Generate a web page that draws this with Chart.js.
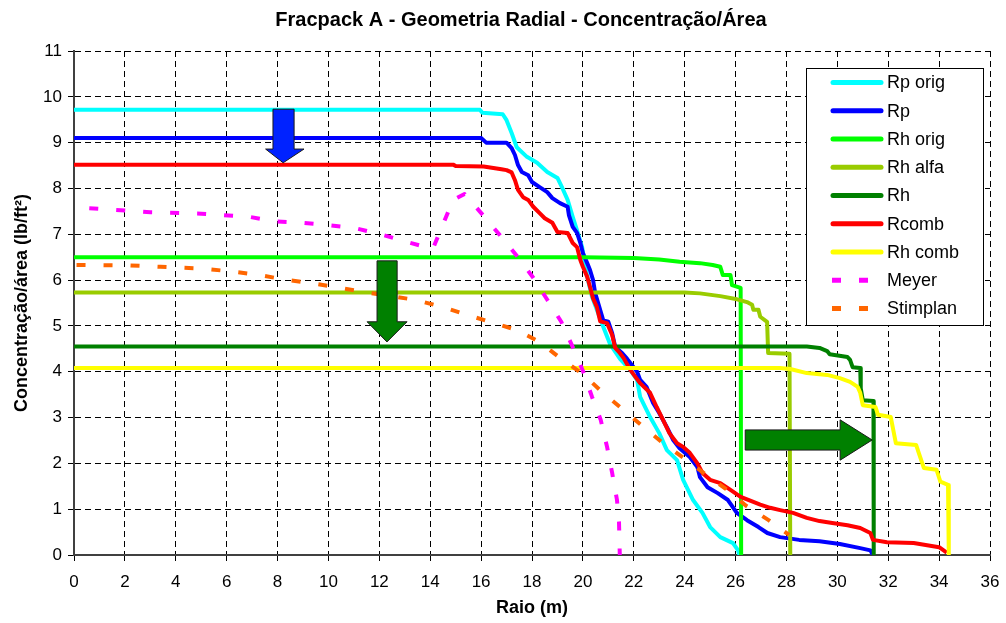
<!DOCTYPE html>
<html>
<head>
<meta charset="utf-8">
<title>Fracpack A - Geometria Radial</title>
<script src="https://cdn.jsdelivr.net/npm/chart.js@4.4.1/dist/chart.umd.min.js"></script>
<style>
  html, body { margin: 0; padding: 0; background: #fff; }
</style>
</head>
<body>
<canvas id="chart" width="1006" height="623"></canvas>
<script>
// Concentração por área x raio, pares [raio (m), lb/ft²]
const rpOrig = [[0,9.72],[15.95,9.72],[16.05,9.65],[16.85,9.62],[17.0,9.49],[17.2,9.21],[17.4,8.9],[17.8,8.69],[18.2,8.56],[18.6,8.36],[19.0,8.23],[19.2,8.0],[19.4,7.75],[19.6,7.38],[19.8,7.03],[19.97,6.72],[20.1,6.29],[20.2,6.0],[20.35,5.65],[20.55,5.35],[20.8,4.98],[21.07,4.6],[21.46,4.28],[21.86,4.04],[22.13,3.82],[22.25,3.45],[22.64,3.01],[23.0,2.66],[23.3,2.29],[23.7,2.07],[23.94,1.64],[24.33,1.2],[24.7,0.92],[25.0,0.61],[25.4,0.39],[25.9,0.26],[26.1,0.1],[26.15,0]];
const rp = [[0,9.1],[16.0,9.1],[16.2,9.0],[17.0,9.0],[17.2,8.88],[17.33,8.73],[17.45,8.51],[17.6,8.36],[17.85,8.29],[18.0,8.14],[18.3,8.03],[18.6,7.92],[18.8,7.79],[19.1,7.68],[19.4,7.6],[19.45,7.42],[19.6,7.16],[19.77,7.03],[19.9,6.81],[20.0,6.59],[20.17,6.37],[20.28,6.22],[20.4,6.0],[20.48,5.72],[20.6,5.5],[20.8,5.12],[21.0,5.09],[21.15,4.84],[21.27,4.54],[21.54,4.41],[21.74,4.28],[22.13,4.0],[22.25,3.82],[22.5,3.67],[22.76,3.32],[23.0,3.1],[23.3,2.79],[23.55,2.51],[23.8,2.33],[24.2,2.14],[24.5,1.92],[24.6,1.7],[24.9,1.48],[25.3,1.35],[25.7,1.2],[26.05,0.92],[26.45,0.76],[26.9,0.61],[27.25,0.48],[27.75,0.39],[28.5,0.33],[29.3,0.3],[30.1,0.24],[30.9,0.15],[31.3,0.1],[31.4,0]];
const rhOrig = [[0,6.5],[20,6.5],[22,6.48],[23,6.45],[23.8,6.4],[24.6,6.37],[25.1,6.33],[25.4,6.29],[25.5,6.11],[25.8,6.11],[25.86,5.89],[26.2,5.83],[26.22,0]];
const rhAlfa = [[0,5.73],[24.0,5.73],[24.6,5.71],[25.4,5.65],[26.06,5.58],[26.45,5.52],[26.65,5.46],[26.7,5.35],[26.9,5.35],[26.97,5.2],[27.24,5.09],[27.28,4.41],[28.12,4.39],[28.15,0]];
const rh = [[0,4.55],[28.8,4.55],[29.3,4.52],[29.6,4.45],[29.7,4.38],[30.4,4.32],[30.5,4.26],[30.6,4.1],[30.9,4.08],[30.92,3.64],[31.0,3.38],[31.42,3.36],[31.43,0]];
const rComb = [[0,8.52],[14.9,8.52],[15.0,8.49],[16.1,8.48],[16.8,8.42],[17.0,8.4],[17.2,8.35],[17.33,8.18],[17.45,7.97],[17.65,7.81],[17.85,7.75],[18.05,7.6],[18.3,7.46],[18.5,7.35],[18.8,7.25],[19.0,7.05],[19.4,7.03],[19.6,6.81],[19.77,6.72],[19.9,6.44],[20.0,6.29],[20.17,6.07],[20.28,5.85],[20.4,5.6],[20.55,5.41],[20.68,5.1],[20.95,5.06],[21.15,4.8],[21.27,4.52],[21.45,4.41],[21.6,4.3],[21.86,4.04],[22.25,3.75],[22.64,3.54],[22.9,3.23],[23.15,2.95],[23.4,2.66],[23.7,2.44],[23.94,2.36],[24.2,2.23],[24.5,2.0],[24.7,1.79],[25.0,1.64],[25.4,1.57],[25.8,1.42],[26.2,1.27],[26.6,1.18],[26.97,1.1],[27.36,1.03],[27.75,0.98],[28.26,0.92],[28.8,0.81],[29.3,0.74],[29.8,0.7],[30.4,0.65],[30.9,0.59],[31.3,0.48],[31.4,0.33],[31.95,0.28],[33.0,0.26],[34.0,0.17],[34.3,0.05]];
const rhComb = [[0,4.08],[27.75,4.08],[28.15,4.06],[28.8,3.97],[29.6,3.93],[30.1,3.86],[30.5,3.78],[30.8,3.67],[30.9,3.54],[31.0,3.27],[31.5,3.23],[31.6,3.06],[32.1,3.01],[32.3,2.44],[33.1,2.4],[33.2,2.23],[33.4,1.9],[33.9,1.86],[34.05,1.6],[34.35,1.53],[34.38,0]];
const meyer = [[0.6,7.57],[3,7.48],[5,7.45],[6.9,7.38],[7.9,7.28],[9,7.25],[10,7.2],[11,7.14],[12.1,6.99],[13.1,6.83],[14.1,6.68],[14.9,7.75],[15.35,7.88],[16.1,7.4],[16.8,6.94],[17.45,6.5],[18.05,6.05],[18.6,5.57],[19.15,5.09],[19.6,4.54],[20.0,4.02],[20.36,3.45],[20.7,2.95],[20.95,2.36],[21.15,1.79],[21.34,1.2],[21.42,0.7],[21.45,0]];
const stimplan = [[0.1,6.33],[2.2,6.32],[3.4,6.29],[4.2,6.27],[5.1,6.25],[6.3,6.18],[7.3,6.11],[8.4,6.0],[9.35,5.93],[10.46,5.83],[11.4,5.74],[13.4,5.57],[14.5,5.41],[15.45,5.24],[16.4,5.08],[17.4,4.91],[18.3,4.65],[19.15,4.28],[20.0,3.95],[20.75,3.56],[21.54,3.19],[22.33,2.82],[23.15,2.44],[24.0,2.1],[24.8,1.77],[25.63,1.44],[26.4,1.08],[27.3,0.76],[28.1,0.44]];

const seriesNames = ['Rp orig', 'Rp', 'Rh orig', 'Rh alfa', 'Rh', 'Rcomb', 'Rh comb', 'Meyer', 'Stimplan'];
const seriesData = [rpOrig, rp, rhOrig, rhAlfa, rh, rComb, rhComb, meyer, stimplan];
const seriesColors = ['#00FFFF', '#0000FF', '#00FF00', '#99CC00', '#008000', '#FF0000', '#FFFF00', '#FF00FF', '#FF6600'];
const dashed = [false, false, false, false, false, false, false, true, true];

const xRange = [0, 36, 2];
const yRange = [0, 11, 1];

const FONT = "'Liberation Sans', Arial, Helvetica, sans-serif";
const DASH = [9, 18];

// setas indicando o deslocamento das curvas (coordenadas em unidades dos eixos)
const arrows = [
  { fill: '#0022FF', pts: [[7.82,9.73],[8.65,9.73],[8.65,8.86],[9.04,8.86],[8.22,8.56],[7.53,8.86],[7.82,8.86]] },
  { fill: '#008000', pts: [[11.91,6.42],[12.7,6.42],[12.7,5.09],[13.09,5.09],[12.3,4.65],[11.52,5.09],[11.91,5.09]] },
  { fill: '#008000', pts: [[26.38,2.73],[30.11,2.73],[30.11,2.95],[31.37,2.51],[30.11,2.07],[30.11,2.29],[26.38,2.29]] }
];

const arrowPlugin = {
  id: 'arrows',
  afterDatasetsDraw(chart) {
    const { ctx, scales: { x, y } } = chart;
    ctx.save();
    arrows.forEach(a => {
      ctx.beginPath();
      a.pts.forEach((p, i) => {
        const px = x.getPixelForValue(p[0]);
        const py = y.getPixelForValue(p[1]);
        if (i === 0) ctx.moveTo(px, py); else ctx.lineTo(px, py);
      });
      ctx.closePath();
      ctx.fillStyle = a.fill;
      ctx.fill();
      ctx.lineWidth = 1;
      ctx.strokeStyle = '#1a1a1a';
      ctx.stroke();
    });
    ctx.restore();
  }
};

// título e legenda desenhados à mão (legenda fica dentro da área do gráfico)
const decorPlugin = {
  id: 'decor',
  afterDraw(chart) {
    const ctx = chart.ctx;
    ctx.save();
    ctx.fillStyle = '#000';
    ctx.font = 'bold 20px ' + FONT;
    ctx.textAlign = 'center';
    ctx.textBaseline = 'middle';
    ctx.fillText('Fracpack A - Geometria Radial - Concentração/Área', 521, 20);

    const bx = 806, by = 68, bw = 177, bh = 257;
    ctx.fillStyle = '#fff';
    ctx.fillRect(bx, by, bw, bh);
    ctx.strokeStyle = '#000';
    ctx.lineWidth = 1;
    ctx.strokeRect(bx + 0.5, by + 0.5, bw, bh);

    ctx.font = '18px ' + FONT;
    ctx.textAlign = 'left';
    seriesNames.forEach((name, i) => {
      const cy = 82.5 + i * 28.25;
      ctx.beginPath();
      ctx.setLineDash(dashed[i] ? DASH : []);
      ctx.lineWidth = 5;
      ctx.lineCap = dashed[i] ? 'butt' : 'round';
      ctx.strokeStyle = seriesColors[i];
      ctx.moveTo(dashed[i] ? 832 : 833, cy);
      ctx.lineTo(dashed[i] ? 870 : 881, cy);
      ctx.stroke();
      ctx.setLineDash([]);
      ctx.fillStyle = '#000';
      ctx.fillText(name, 887, cy + 1);
    });
    ctx.restore();
  }
};

const datasets = seriesNames.map((name, i) => ({
  label: name,
  data: seriesData[i].map(p => ({ x: p[0], y: p[1] })),
  borderColor: seriesColors[i],
  backgroundColor: seriesColors[i],
  borderWidth: 4,
  borderDash: dashed[i] ? DASH : [],
  borderJoinStyle: 'round',
  pointRadius: 0,
  tension: 0,
  fill: false,
  order: -i
}));

new Chart(document.getElementById('chart').getContext('2d'), {
  type: 'line',
  data: { datasets: datasets },
  options: {
    responsive: false,
    animation: false,
    devicePixelRatio: 1,
    layout: { padding: { left: 0, top: 51, right: 16, bottom: 0 } },
    plugins: {
      legend: { display: false },
      tooltip: { enabled: false }
    },
    scales: {
      x: {
        type: 'linear',
        min: xRange[0],
        max: xRange[1],
        ticks: { stepSize: xRange[2], color: '#000', font: { family: FONT, size: 17 }, padding: 11, maxRotation: 0 },
        grid: { color: '#000', lineWidth: 1, tickLength: 6, tickColor: '#000', tickBorderDash: [] },
        border: { display: true, color: '#404040', width: 2, dash: [6, 4] },
        title: { display: true, text: 'Raio (m)', color: '#000', font: { family: FONT, size: 18, weight: 'bold' }, padding: { top: 0, bottom: 4 } },
        afterFit(scale) {
          scale.height = 68;
          scale.paddingLeft = 0;
          scale.paddingRight = 0;
        }
      },
      y: {
        type: 'linear',
        min: yRange[0],
        max: yRange[1],
        ticks: { stepSize: yRange[2], color: '#000', font: { family: FONT, size: 17 }, padding: 6 },
        grid: { color: '#000', lineWidth: 1, tickLength: 6, tickColor: '#000', tickBorderDash: [] },
        border: { display: true, color: '#404040', width: 2, dash: [6, 4] },
        title: { display: true, text: 'Concentração/área (lb/ft²)', color: '#000', font: { family: FONT, size: 18, weight: 'bold' }, padding: { top: 11, bottom: 0 } },
        afterFit(scale) { scale.width = 74; }
      }
    }
  },
  plugins: [arrowPlugin, decorPlugin]
});
</script>
</body>
</html>
